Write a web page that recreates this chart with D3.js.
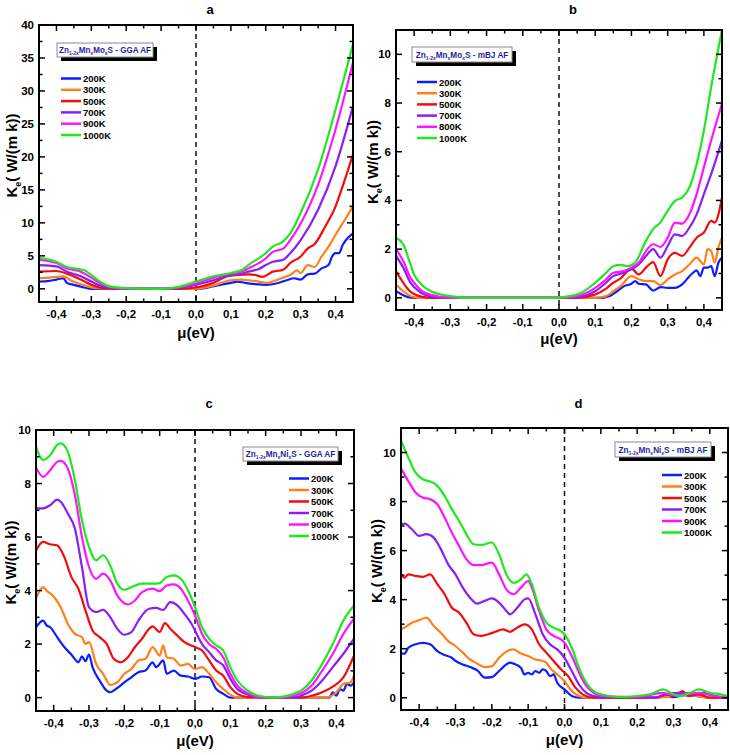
<!DOCTYPE html>
<html>
<head>
<meta charset="utf-8">
<script src="https://cdn.jsdelivr.net/npm/d3@7"></script>
<style>
  body { margin: 0; background: #fff; }
  svg { display: block; font-family: "Liberation Sans", Arial, sans-serif; font-weight: bold; }
</style>
</head>
<body>
<svg width="730" height="755"></svg>
<script>
// temperatures shown in each legend
const tempsA = ["200K", "300K", "500K", "700K", "900K", "1000K"];
const tempsB = ["200K", "300K", "500K", "700K", "800K", "1000K"];
const tempsC = ["200K", "300K", "500K", "700K", "900K", "1000K"];
const tempsD = ["200K", "300K", "500K", "700K", "900K", "1000K"];
const colors = ["#0b1eff", "#ff8019", "#f20c0c", "#8a1ff5", "#ff14ff", "#1ee81e"];

const xTicks = [-0.4, -0.3, -0.2, -0.1, 0, 0.1, 0.2, 0.3, 0.4];
const yTicksA = [0, 5, 10, 15, 20, 25, 30, 35, 40];
const yTicksB = [0, 2, 4, 6, 8, 10];
const yTicksC = [0, 2, 4, 6, 8, 10];
const yTicksD = [0, 2, 4, 6, 8, 10];

// (a) Zn1-2xMnxMoxS - GGA AF : [mu, Ke]
const seriesA = [
  [[-0.45,1.1],[-0.42,1.2],[-0.4,1.4],[-0.38,1.6],[-0.37,0.9],[-0.35,0.6],[-0.32,0.2],[-0.3,0],[0,0],[0.03,0.15],[0.05,0.4],[0.08,0.7],[0.1,0.9],[0.12,1.1],[0.14,0.9],[0.17,0.7],[0.2,0.6],[0.23,0.8],[0.26,1.3],[0.28,1.6],[0.3,1.4],[0.32,2.2],[0.34,2.3],[0.36,3.1],[0.38,3.6],[0.39,4.9],[0.4,5.4],[0.41,5.4],[0.42,6.6],[0.43,7.4],[0.45,8.4]],
  [[-0.45,1.6],[-0.42,1.7],[-0.4,1.8],[-0.38,1.9],[-0.36,1.3],[-0.33,0.7],[-0.3,0.2],[-0.27,0.05],[-0.2,0],[0,0],[0.05,0.5],[0.1,1.3],[0.13,1.4],[0.15,1.3],[0.18,1.1],[0.2,0.9],[0.23,1.3],[0.25,1.7],[0.27,2.1],[0.29,2.8],[0.3,2.4],[0.32,3.6],[0.34,3.3],[0.36,4.9],[0.38,6.4],[0.4,8.2],[0.42,9.9],[0.45,12.5]],
  [[-0.45,2.6],[-0.4,2.7],[-0.37,2.3],[-0.33,1.4],[-0.3,0.6],[-0.27,0.15],[-0.22,0],[-0.05,0],[0,0.2],[0.05,0.9],[0.09,1.9],[0.12,2.1],[0.15,2.2],[0.17,2.1],[0.19,1.8],[0.22,2.6],[0.25,2.9],[0.27,3.9],[0.3,4.9],[0.32,6.1],[0.34,6.8],[0.37,9.4],[0.4,12.5],[0.42,15.5],[0.45,20.4]],
  [[-0.45,3.6],[-0.4,3.4],[-0.37,2.6],[-0.33,1.9],[-0.3,1.1],[-0.27,0.4],[-0.22,0.05],[-0.1,0],[-0.05,0.1],[0,0.6],[0.05,1.3],[0.1,2.1],[0.13,2.3],[0.15,2.6],[0.18,3.0],[0.2,3.6],[0.22,4.1],[0.25,4.4],[0.27,5.4],[0.3,7.4],[0.35,12.0],[0.4,18.6],[0.45,27.7]],
  [[-0.45,4.4],[-0.4,3.9],[-0.37,3.1],[-0.33,2.6],[-0.3,1.7],[-0.27,0.7],[-0.25,0.3],[-0.2,0.05],[-0.1,0],[-0.05,0.2],[0,0.8],[0.05,1.7],[0.1,2.3],[0.13,2.6],[0.15,3.1],[0.2,4.6],[0.22,5.6],[0.25,6.1],[0.27,7.4],[0.3,9.9],[0.35,15.8],[0.4,24.2],[0.45,34.3]],
  [[-0.45,4.7],[-0.4,4.1],[-0.37,3.3],[-0.35,3.1],[-0.32,2.8],[-0.3,2.1],[-0.27,0.9],[-0.25,0.4],[-0.2,0.1],[-0.1,0],[-0.05,0.3],[0,1.1],[0.05,1.9],[0.1,2.4],[0.13,2.8],[0.15,3.6],[0.2,5.4],[0.22,6.4],[0.25,7.2],[0.27,8.4],[0.3,11.5],[0.35,18.1],[0.4,27.2],[0.45,37.1]]
];

// (b) Zn1-2xMnxMoxS - mBJ AF
const seriesB = [
  [[-0.45,0.27],[-0.43,0.11],[-0.41,0.01],[-0.38,0],[0.12,0],[0.14,0.07],[0.16,0.27],[0.18,0.48],[0.2,0.58],[0.21,0.69],[0.22,0.58],[0.24,0.55],[0.26,0.3],[0.28,0.44],[0.3,0.41],[0.32,0.41],[0.34,0.55],[0.36,0.89],[0.37,1.03],[0.38,1.13],[0.39,0.89],[0.4,1.24],[0.41,1.24],[0.42,1.3],[0.43,0.89],[0.44,1.44],[0.45,1.65]],
  [[-0.45,0.55],[-0.43,0.27],[-0.41,0.07],[-0.39,0],[0.1,0],[0.13,0.07],[0.15,0.27],[0.17,0.48],[0.2,0.89],[0.22,0.76],[0.24,0.69],[0.26,0.69],[0.28,0.52],[0.3,0.76],[0.32,0.96],[0.34,1.1],[0.36,1.37],[0.38,1.65],[0.39,1.51],[0.4,1.37],[0.41,2.0],[0.42,1.92],[0.43,1.44],[0.44,2.06],[0.45,2.47]],
  [[-0.45,1.1],[-0.43,0.62],[-0.41,0.25],[-0.4,0.16],[-0.38,0.05],[-0.35,0],[0.05,0],[0.1,0.14],[0.13,0.38],[0.15,0.62],[0.17,0.8],[0.2,1.2],[0.22,0.96],[0.24,1.24],[0.26,1.47],[0.28,0.89],[0.3,1.58],[0.32,1.85],[0.34,1.72],[0.36,2.06],[0.38,2.47],[0.4,2.68],[0.42,3.16],[0.43,3.09],[0.45,4.12]],
  [[-0.45,1.72],[-0.43,1.24],[-0.41,0.62],[-0.4,0.44],[-0.38,0.2],[-0.35,0.05],[-0.3,0],[0,0],[0.05,0.03],[0.1,0.27],[0.13,0.62],[0.15,0.89],[0.17,0.99],[0.2,1.17],[0.22,1.37],[0.24,1.72],[0.26,2.0],[0.28,1.65],[0.3,2.13],[0.32,2.61],[0.34,2.54],[0.36,2.88],[0.38,3.43],[0.4,4.26],[0.42,5.08],[0.45,6.46]],
  [[-0.45,2.0],[-0.43,1.51],[-0.41,0.82],[-0.4,0.62],[-0.38,0.3],[-0.35,0.11],[-0.3,0],[0,0],[0.05,0.07],[0.1,0.41],[0.13,0.76],[0.15,1.03],[0.17,1.07],[0.2,1.24],[0.22,1.44],[0.24,1.92],[0.26,2.2],[0.28,2.09],[0.3,2.47],[0.32,3.09],[0.34,3.05],[0.36,3.43],[0.38,4.26],[0.4,5.36],[0.42,6.46],[0.45,7.97]],
  [[-0.45,2.47],[-0.43,2.2],[-0.41,1.37],[-0.4,0.96],[-0.38,0.55],[-0.35,0.25],[-0.3,0.07],[-0.25,0],[-0.02,0],[0.03,0.07],[0.06,0.2],[0.1,0.62],[0.13,1.03],[0.15,1.3],[0.17,1.35],[0.19,1.3],[0.21,1.44],[0.24,2.34],[0.26,2.82],[0.28,3.1],[0.3,3.57],[0.32,3.98],[0.34,4.12],[0.36,4.53],[0.38,5.5],[0.4,6.87],[0.42,8.65],[0.45,11.0]]
];

// (c) Zn1-2xMnxNixS - GGA AF
const seriesC = [
  [[-0.45,2.63],[-0.43,2.88],[-0.42,2.7],[-0.41,2.63],[-0.39,2.26],[-0.37,1.89],[-0.35,1.61],[-0.33,1.32],[-0.32,1.54],[-0.31,1.36],[-0.3,1.61],[-0.29,1.14],[-0.27,0.64],[-0.25,0.26],[-0.24,0.2],[-0.22,0.36],[-0.2,0.57],[-0.18,0.76],[-0.16,0.95],[-0.14,1.01],[-0.12,1.32],[-0.11,1.14],[-0.09,1.39],[-0.08,0.89],[-0.06,1.01],[-0.04,0.82],[-0.02,0.79],[0,0.7],[0.02,0.79],[0.04,0.76],[0.06,0.32],[0.08,0.14],[0.1,0],[0.38,0],[0.39,0.2],[0.4,0.07],[0.41,0.32],[0.42,0.26],[0.43,0.51],[0.44,0.45],[0.45,0.57]],
  [[-0.45,3.7],[-0.43,4.13],[-0.42,4.0],[-0.4,3.78],[-0.38,3.38],[-0.36,2.76],[-0.34,2.38],[-0.32,2.26],[-0.31,2.01],[-0.3,2.07],[-0.28,1.26],[-0.26,0.89],[-0.24,0.47],[-0.22,0.57],[-0.2,0.89],[-0.18,1.07],[-0.16,1.39],[-0.14,1.45],[-0.12,1.89],[-0.1,1.57],[-0.09,1.95],[-0.08,1.51],[-0.06,1.45],[-0.04,1.2],[-0.02,1.26],[0,1.07],[0.02,1.14],[0.04,0.89],[0.06,0.57],[0.08,0.32],[0.1,0.11],[0.12,0],[0.37,0],[0.4,0.2],[0.42,0.51],[0.44,0.57],[0.45,0.82]],
  [[-0.45,5.5],[-0.43,5.82],[-0.41,5.73],[-0.39,5.69],[-0.37,5.26],[-0.35,4.51],[-0.33,4.07],[-0.31,3.26],[-0.29,2.51],[-0.27,2.26],[-0.25,2.01],[-0.23,1.45],[-0.21,1.32],[-0.19,1.51],[-0.17,1.89],[-0.15,2.2],[-0.13,2.57],[-0.12,2.66],[-0.1,2.45],[-0.085,2.78],[-0.07,2.57],[-0.05,2.32],[-0.03,2.07],[0,1.89],[0.02,1.76],[0.04,1.39],[0.06,1.01],[0.08,0.82],[0.1,0.39],[0.12,0.14],[0.15,0.02],[0.3,0],[0.33,0.07],[0.36,0.2],[0.39,0.41],[0.42,0.76],[0.45,1.57]],
  [[-0.45,7.07],[-0.43,7.07],[-0.41,7.19],[-0.39,7.4],[-0.38,7.32],[-0.36,6.88],[-0.34,6.32],[-0.32,4.88],[-0.3,3.38],[-0.28,3.2],[-0.26,3.28],[-0.24,3.01],[-0.22,2.57],[-0.2,2.35],[-0.18,2.45],[-0.16,2.88],[-0.13,3.32],[-0.11,3.35],[-0.09,3.28],[-0.07,3.57],[-0.05,3.45],[-0.03,3.13],[-0.01,2.76],[0,2.51],[0.02,2.0],[0.04,1.7],[0.06,1.39],[0.08,1.2],[0.1,0.7],[0.12,0.32],[0.15,0.11],[0.2,0],[0.28,0],[0.3,0.07],[0.33,0.26],[0.36,0.64],[0.39,1.14],[0.42,1.64],[0.45,2.2]],
  [[-0.45,8.6],[-0.43,8.25],[-0.41,8.5],[-0.39,8.81],[-0.38,8.85],[-0.36,8.56],[-0.34,7.57],[-0.32,6.0],[-0.3,4.88],[-0.28,4.44],[-0.26,4.63],[-0.24,4.38],[-0.22,3.82],[-0.19,3.48],[-0.17,3.63],[-0.15,3.94],[-0.12,4.07],[-0.1,3.98],[-0.08,4.19],[-0.06,4.23],[-0.04,4.07],[-0.02,3.63],[0,3.07],[0.02,2.38],[0.04,2.0],[0.06,1.82],[0.08,1.5],[0.1,0.89],[0.12,0.45],[0.15,0.16],[0.18,0.02],[0.25,0],[0.28,0.07],[0.3,0.16],[0.33,0.45],[0.36,1.01],[0.39,1.64],[0.42,2.38],[0.45,2.95]],
  [[-0.45,9.38],[-0.43,8.88],[-0.41,9.06],[-0.39,9.44],[-0.38,9.5],[-0.36,9.19],[-0.34,8.13],[-0.32,6.63],[-0.3,5.63],[-0.28,5.13],[-0.26,5.32],[-0.24,4.94],[-0.22,4.26],[-0.2,4.03],[-0.18,4.13],[-0.15,4.26],[-0.12,4.26],[-0.1,4.28],[-0.08,4.51],[-0.06,4.57],[-0.04,4.44],[-0.02,4.01],[0,3.38],[0.02,2.63],[0.04,2.2],[0.06,1.95],[0.08,1.76],[0.1,1.14],[0.12,0.64],[0.15,0.26],[0.18,0.07],[0.22,0.01],[0.25,0.04],[0.28,0.14],[0.3,0.26],[0.33,0.64],[0.36,1.26],[0.39,2.0],[0.42,2.88],[0.45,3.44]]
];

// (d) Zn1-2xMnxNixS - mBJ AF
const seriesD = [
  [[-0.45,1.8],[-0.44,1.8],[-0.43,2.04],[-0.41,2.18],[-0.39,2.24],[-0.37,2.18],[-0.35,1.9],[-0.33,1.74],[-0.31,1.63],[-0.3,1.5],[-0.28,1.36],[-0.26,1.25],[-0.24,1.12],[-0.22,0.82],[-0.2,0.84],[-0.18,1.09],[-0.16,1.36],[-0.15,1.43],[-0.14,1.39],[-0.12,1.22],[-0.11,0.95],[-0.1,1.02],[-0.09,0.95],[-0.08,1.09],[-0.07,1.02],[-0.06,1.16],[-0.05,1.09],[-0.04,0.88],[-0.03,0.95],[-0.02,0.61],[0,0.34],[0.02,0.07],[0.04,0],[0.25,0],[0.28,0.07],[0.3,0.02],[0.33,0.11],[0.36,0.07],[0.4,0],[0.45,0]],
  [[-0.45,2.79],[-0.44,2.86],[-0.42,3.06],[-0.4,3.16],[-0.38,3.27],[-0.36,2.93],[-0.34,2.65],[-0.32,2.31],[-0.3,2.11],[-0.28,1.84],[-0.26,1.56],[-0.24,1.39],[-0.22,1.25],[-0.2,1.29],[-0.18,1.63],[-0.16,1.88],[-0.14,1.97],[-0.12,1.8],[-0.1,1.7],[-0.08,1.56],[-0.06,1.5],[-0.05,1.43],[-0.04,1.22],[-0.02,0.95],[0,0.68],[0.02,0.27],[0.04,0.07],[0.06,0],[0.25,0],[0.27,0.02],[0.3,0.07],[0.33,0.11],[0.36,0.07],[0.4,0],[0.45,0]],
  [[-0.45,5.03],[-0.44,4.9],[-0.43,5.03],[-0.41,4.97],[-0.39,4.93],[-0.37,5.03],[-0.35,4.63],[-0.33,4.22],[-0.31,3.67],[-0.29,3.47],[-0.27,3.06],[-0.25,2.59],[-0.23,2.52],[-0.21,2.59],[-0.19,2.69],[-0.17,2.79],[-0.15,2.69],[-0.13,2.86],[-0.11,2.99],[-0.09,2.79],[-0.07,2.18],[-0.05,1.84],[-0.03,1.5],[-0.01,1.16],[0.01,0.88],[0.03,0.41],[0.05,0.14],[0.08,0],[0.25,0],[0.28,0.14],[0.3,0.07],[0.325,0.27],[0.34,0.07],[0.37,0.14],[0.4,0],[0.45,0]],
  [[-0.45,7.07],[-0.44,7.1],[-0.42,6.87],[-0.4,6.6],[-0.38,6.67],[-0.36,6.53],[-0.34,6.05],[-0.32,5.44],[-0.3,5.03],[-0.28,4.49],[-0.26,4.08],[-0.24,3.84],[-0.22,3.95],[-0.2,4.05],[-0.18,3.88],[-0.16,3.54],[-0.15,3.4],[-0.13,3.67],[-0.11,4.01],[-0.1,4.05],[-0.08,3.4],[-0.06,2.59],[-0.04,2.18],[-0.02,1.97],[0,1.63],[0.02,1.09],[0.04,0.54],[0.06,0.2],[0.08,0.07],[0.1,0.02],[0.25,0.02],[0.28,0.14],[0.32,0.2],[0.35,0.16],[0.38,0.2],[0.42,0.05],[0.45,0.02]],
  [[-0.45,9.36],[-0.43,8.84],[-0.41,8.37],[-0.39,8.16],[-0.37,8.1],[-0.35,7.89],[-0.33,7.35],[-0.31,6.73],[-0.29,6.19],[-0.27,5.65],[-0.25,5.41],[-0.23,5.41],[-0.2,5.51],[-0.18,5.03],[-0.16,4.42],[-0.14,4.22],[-0.12,4.49],[-0.1,4.76],[-0.09,4.49],[-0.07,3.54],[-0.05,2.79],[-0.03,2.52],[-0.01,2.38],[0,2.24],[0.02,1.7],[0.04,1.02],[0.06,0.48],[0.08,0.2],[0.1,0.07],[0.2,0.03],[0.27,0.2],[0.3,0.11],[0.33,0.14],[0.37,0.2],[0.41,0.08],[0.45,0.02]],
  [[-0.45,10.48],[-0.43,9.8],[-0.41,9.18],[-0.39,8.91],[-0.37,8.82],[-0.35,8.64],[-0.33,8.23],[-0.31,7.69],[-0.29,7.21],[-0.27,6.67],[-0.25,6.26],[-0.23,6.23],[-0.2,6.33],[-0.18,5.85],[-0.16,5.03],[-0.14,4.69],[-0.12,4.83],[-0.105,5.03],[-0.09,4.63],[-0.07,3.67],[-0.05,3.06],[-0.03,2.86],[-0.01,2.72],[0,2.59],[0.02,2.04],[0.04,1.22],[0.06,0.61],[0.08,0.27],[0.1,0.14],[0.15,0.03],[0.2,0.07],[0.24,0.16],[0.27,0.34],[0.3,0.14],[0.32,0.07],[0.34,0.16],[0.37,0.34],[0.4,0.2],[0.43,0.14],[0.45,0.07]]
];

const svg = d3.select("svg");

const panels = [
  { id: "a", series: seriesA, temps: tempsA, yTicks: yTicksA, yMinor: 2.5, yDom: [-2, 40],
    box: [39, 25, 353, 302], letterY: 14, ylabX: 12, xlabY: 338,
    leg: { bx: 57, by: 43, bw: 96, bh: 14, lx: 61, ly: 78.5, dy: 11.3, elem: "Mo", calc: "GGA AF" } },
  { id: "b", series: seriesB, temps: tempsB, yTicks: yTicksB, yMinor: 1, yDom: [-0.5, 11],
    box: [396, 30, 722, 310], letterY: 14, ylabX: 373, xlabY: 344,
    leg: { bx: 412, by: 47, bw: 100, bh: 15, lx: 417, ly: 82, dy: 11.2, elem: "Mo", calc: "mBJ AF" } },
  { id: "c", series: seriesC, temps: tempsC, yTicks: yTicksC, yMinor: 1, yDom: [-0.5, 10],
    box: [36, 430, 354, 711], letterY: 408, ylabX: 11, xlabY: 746,
    leg: { bx: 243, by: 447, bw: 95, bh: 14, lx: 289, ly: 478.5, dy: 11.5, elem: "Ni", calc: "GGA AF" } },
  { id: "d", series: seriesD, temps: tempsD, yTicks: yTicksD, yMinor: 1, yDom: [-0.5, 11],
    box: [401, 428, 728, 710], letterY: 408, ylabX: 377, xlabY: 745,
    leg: { bx: 615, by: 442, bw: 96, bh: 15, lx: 662, ly: 475, dy: 11.5, elem: "Ni", calc: "mBJ AF" } }
];

const fmtX = v => (v < 0 ? "-" : "") + Math.abs(v).toFixed(1).replace(".", ",");

panels.forEach((p, pi) => {
  const [x0, y0, x1, y1] = p.box;
  const x = d3.scaleLinear().domain([-0.45, 0.45]).range([x0, x1]);
  const y = d3.scaleLinear().domain(p.yDom).range([y1, y0]);
  const g = svg.append("g");

  // panel letter
  g.append("text")
    .attr("x", (x0 + x1) / 2 + 14).attr("y", p.letterY)
    .attr("text-anchor", "middle").attr("font-size", 13)
    .text(p.id);

  // clip
  const clipId = "clip" + pi;
  svg.append("clipPath").attr("id", clipId)
    .append("rect").attr("x", x0).attr("y", y0).attr("width", x1 - x0).attr("height", y1 - y0);

  const line = d3.line()
    .x(d => x(d[0]))
    .y(d => y(d[1]))
    .curve(d3.curveMonotoneX);

  // dashed zero line
  g.append("line")
    .attr("x1", x(0)).attr("x2", x(0)).attr("y1", y0).attr("y2", y1)
    .attr("stroke", "#111").attr("stroke-width", 1.5)
    .attr("stroke-dasharray", "5,4");

  g.append("g").attr("clip-path", `url(#${clipId})`)
    .selectAll("path")
    .data(p.series)
    .enter().append("path")
      .attr("d", line)
      .attr("fill", "none")
      .attr("stroke", (d, i) => colors[i])
      .attr("stroke-width", 2.2)
      .attr("stroke-linejoin", "round");

  // frame
  g.append("rect")
    .attr("x", x0).attr("y", y0).attr("width", x1 - x0).attr("height", y1 - y0)
    .attr("fill", "none").attr("stroke", "#000").attr("stroke-width", 2);

  // x ticks, inward on top and bottom
  const xMinor = d3.range(-0.45, 0.451, 0.05).map(v => Math.round(v * 100) / 100);
  xMinor.forEach(v => {
    const major = xTicks.some(t => Math.abs(t - v) < 1e-6);
    const len = major ? 6 : 3.5;
    g.append("line").attr("x1", x(v)).attr("x2", x(v)).attr("y1", y1).attr("y2", y1 - len)
      .attr("stroke", "#000").attr("stroke-width", 1.5);
    g.append("line").attr("x1", x(v)).attr("x2", x(v)).attr("y1", y0).attr("y2", y0 + len)
      .attr("stroke", "#000").attr("stroke-width", 1.5);
  });
  g.selectAll(".xl").data(xTicks).enter().append("text")
    .attr("x", d => x(d)).attr("y", y1 + 16)
    .attr("text-anchor", "middle").attr("font-size", 11.5)
    .text(fmtX);

  // y ticks, inward on left and right
  const yMinor = d3.range(0, p.yDom[1] + 1e-6, p.yMinor);
  yMinor.forEach(v => {
    const major = p.yTicks.includes(v);
    const len = major ? 6 : 3.5;
    g.append("line").attr("x1", x0).attr("x2", x0 + len).attr("y1", y(v)).attr("y2", y(v))
      .attr("stroke", "#000").attr("stroke-width", 1.5);
    g.append("line").attr("x1", x1).attr("x2", x1 - len).attr("y1", y(v)).attr("y2", y(v))
      .attr("stroke", "#000").attr("stroke-width", 1.5);
  });
  g.selectAll(".yl").data(p.yTicks).enter().append("text")
    .attr("x", x0 - 5).attr("y", d => y(d) + 4)
    .attr("text-anchor", "end").attr("font-size", 11.5)
    .text(d => d);

  // axis titles
  const yt = g.append("text")
    .attr("transform", `translate(${p.ylabX},${(y0 + y1) / 2 - 8}) rotate(-90)`)
    .attr("text-anchor", "middle").attr("dy", "0.35em").attr("font-size", 15);
  yt.append("tspan").text("K");
  yt.append("tspan").attr("font-size", 9).attr("dy", 4).text("e");
  yt.append("tspan").attr("dy", -4).text("( W/(m k))");

  g.append("text")
    .attr("x", (x0 + x1) / 2).attr("y", p.xlabY)
    .attr("text-anchor", "middle").attr("font-size", 15)
    .text("\u03bc(eV)");

  // legend title box with shadow
  const L = p.leg;
  g.append("rect").attr("x", L.bx + 4).attr("y", L.by + 4).attr("width", L.bw).attr("height", L.bh)
    .attr("fill", "#000");
  g.append("rect").attr("x", L.bx).attr("y", L.by).attr("width", L.bw).attr("height", L.bh)
    .attr("fill", "#fff").attr("stroke", "#8a8a8a").attr("stroke-width", 1);
  const lt = g.append("text")
    .attr("x", L.bx + L.bw / 2).attr("y", L.by + L.bh / 2 + 3)
    .attr("text-anchor", "middle").attr("font-size", 8.2).attr("fill", "#1f1fa6");
  lt.append("tspan").text("Zn");
  lt.append("tspan").attr("font-size", 5).attr("dy", 2).text("1-2x");
  lt.append("tspan").attr("dy", -2).text("Mn");
  lt.append("tspan").attr("font-size", 5).attr("dy", 2).text("x");
  lt.append("tspan").attr("dy", -2).text(L.elem);
  lt.append("tspan").attr("font-size", 5).attr("dy", 2).text("x");
  lt.append("tspan").attr("dy", -2).text("S - " + L.calc);
  // keep the title inside its box
  const tw = lt.node().getComputedTextLength();
  if (tw > L.bw - 4) lt.attr("textLength", L.bw - 4).attr("lengthAdjust", "spacingAndGlyphs");

  // legend entries
  const items = g.selectAll(".leg").data(p.temps).enter().append("g")
    .attr("transform", (d, i) => `translate(${L.lx},${L.ly + i * L.dy})`);
  items.append("line").attr("x1", 0).attr("x2", 20).attr("y1", 0).attr("y2", 0)
    .attr("stroke", (d, i) => colors[i]).attr("stroke-width", 2.5);
  items.append("text").attr("x", 22).attr("y", 3.5).attr("font-size", 9.5)
    .text(d => d);
});
</script>
</body>
</html>
